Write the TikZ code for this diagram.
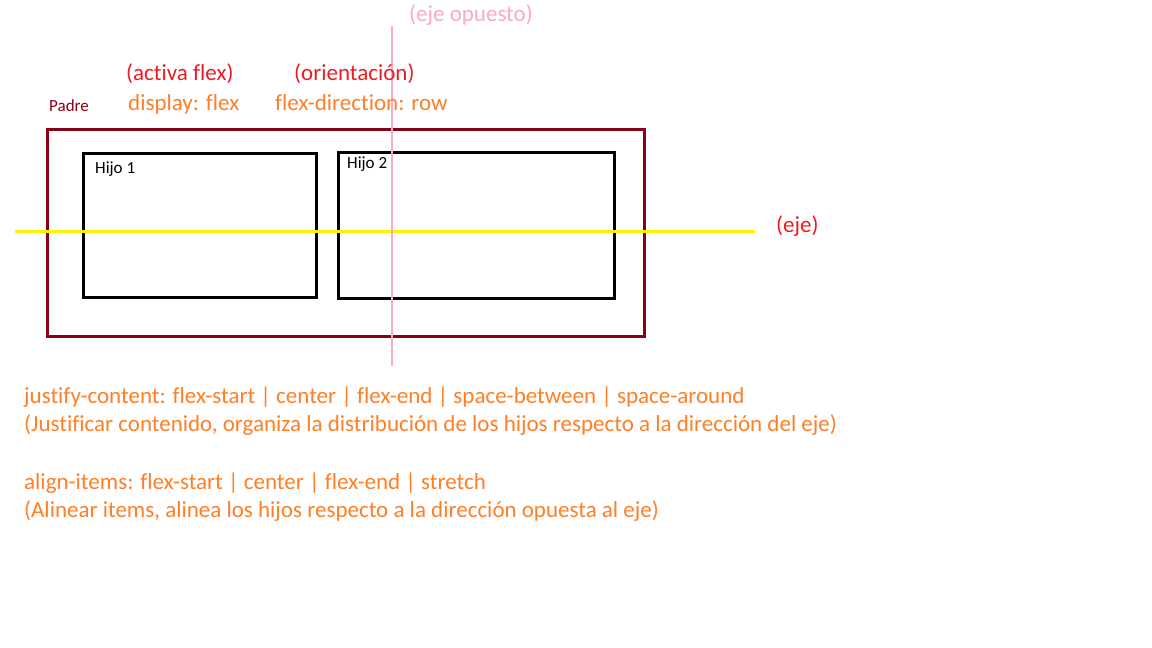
\documentclass[tikz,border=0pt]{standalone}
\usepackage{fontspec}
\setmainfont[Ligatures=NoCommon]{Carlito}
\definecolor{dred}{RGB}{136,0,21}
\definecolor{pred}{RGB}{237,28,36}
\definecolor{porange}{RGB}{255,127,39}
\definecolor{pyellow}{RGB}{255,242,0}
\definecolor{ppink}{RGB}{248,170,198}
\begin{document}
\begin{tikzpicture}[x=1pt,y=-1pt,
  big/.style={inner sep=0pt,anchor=west,font=\fontsize{23}{27}\selectfont},
  small/.style={inner sep=0pt,anchor=west,font=\fontsize{17}{20}\selectfont},
  box/.style={draw,line width=3pt,anchor=north west,inner sep=0pt,outer sep=0pt}]
\useasboundingbox[fill=white] (0,0) rectangle (1152,648);
% boxes
\node[box,draw=dred,minimum width=597pt,minimum height=207pt] (padre) at (47,129) {};
\node[box,draw=black,minimum width=233pt,minimum height=144pt] (h1) at (83,153) {};
\node[box,draw=black,minimum width=276pt,minimum height=146pt] (h2) at (338,152) {};
% axes
\coordinate (ya) at (15,231);
\coordinate (yb) at (755,231);
\draw[pyellow,line width=3pt] (ya) -- (yb);
\coordinate (pa) at (392,26);
\coordinate (pb) at (392,366);
\draw[ppink,line width=2.5pt] (pa) -- (pb);
% labels
\node[small,text=dred] (lpadre) at (49,106) {Padre};
\node[small,text=black] (lh1) at (95,169) {Hijo 1};
\node[small,text=black] (lh2) at (347,164) {Hijo 2};
\node[big,text=ppink] (lopp) at (409,15) {(eje opuesto)};
\node[big,text=pred] (lact) at (126,74) {(activa flex)};
\node[big,text=porange] (ldisp) at (128,104) {display: flex};
\node[big,text=pred] (lori) at (294,74) {(orientación)};
\node[big,text=porange] (ldir) at (275,103) {flex-direction: row};
\node[big,text=pred] (leje) at (776,226) {(eje)};
\node[big,text=porange] (lj1) at (24,397) {justify-content: flex-start | center | flex-end | space-between | space-around};
\node[big,text=porange] (lj2) at (24,425) {(Justificar contenido, organiza la distribución de los hijos respecto a la dirección del eje)};
\node[big,text=porange] (la1) at (24,483) {align-items: flex-start | center | flex-end | stretch};
\node[big,text=porange] (la2) at (24,511) {(Alinear items, alinea los hijos respecto a la dirección opuesta al eje)};
\end{tikzpicture}
\end{document}
